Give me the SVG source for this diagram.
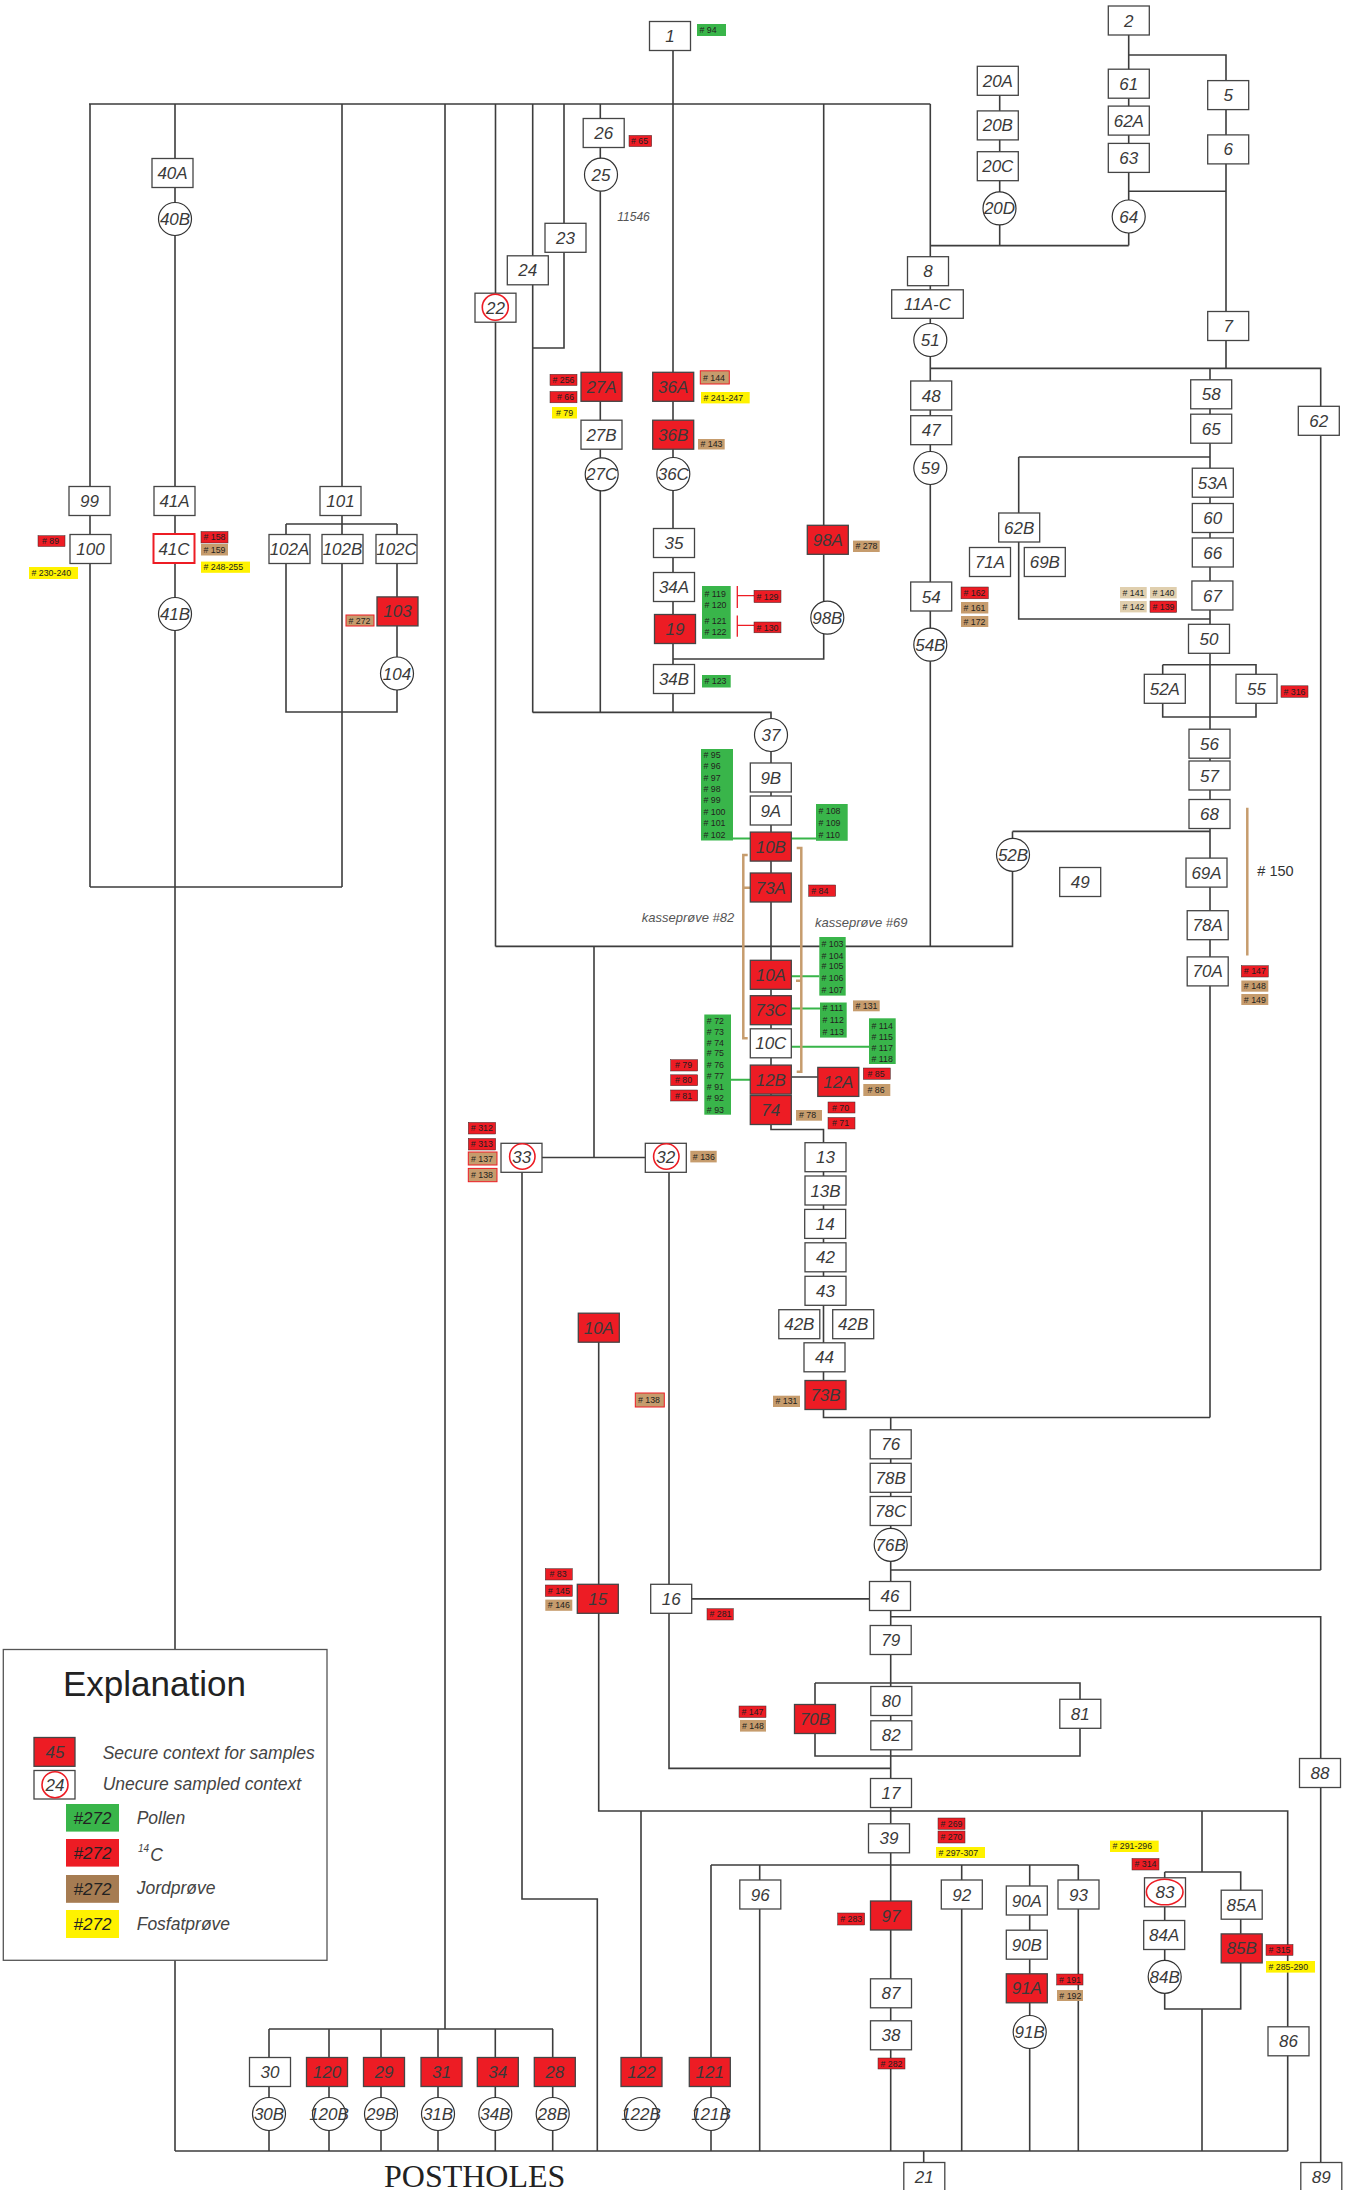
<svg xmlns="http://www.w3.org/2000/svg" width="1351" height="2190" viewBox="0 0 1351 2190">
<style>
.bg{fill:#fff}
.b{fill:#fff;stroke:#454545;stroke-width:1.3}
.r{fill:#ed1c24;stroke:#454545;stroke-width:1.3}
.ro{fill:#fff;stroke:#ed1c24;stroke-width:2}
.c{fill:#fff;stroke:#333;stroke-width:1.2}
.rc{fill:none;stroke:#ed1c24;stroke-width:1.6}
.t{font-family:"Liberation Sans",Arial,sans-serif;font-style:italic;font-size:17px;fill:#3a3a3a;text-anchor:middle}
.con{fill:none;stroke:#3d3d3d;stroke-width:1.6}
.gl{fill:none;stroke:#39b54a;stroke-width:2}
.rb{fill:none;stroke:#ed1c24;stroke-width:1.3}
.tb{fill:none;stroke:#c69c6d;stroke-width:2.5}
.s{font-family:"Liberation Sans",Arial,sans-serif;font-size:8.8px;fill:#231f20}
.tR{fill:#ed1c24;stroke:#3a2a2a;stroke-width:0.5}
.tG{fill:#39b54a}
.tB{fill:#c69c6d}
.tY{fill:#fff200}
.tE{fill:#e0cfae}
.tBo{fill:#c69c6d;stroke:#ed1c24;stroke-width:1}
.note{font-family:"Liberation Sans",Arial,sans-serif;font-style:italic;fill:#555}
.lg{font-family:"Liberation Sans",Arial,sans-serif;font-style:italic;font-size:17.5px;fill:#444}
.sw{font-family:"Liberation Sans",Arial,sans-serif;font-style:italic;font-size:17px;fill:#222;text-anchor:middle}
</style>
<rect class="bg" x="0" y="0" width="1351" height="2190"/>

<g id="connectors">
<path class="con" d="M89 104H930.3 M90 104V887 M90 887H342 M175 104V2151 M342 104V887 M286 524H397 M286 524V712H397V524 M445 104V2029 M495.5 104V946.4 M532.7 104V712.4 M564 104V348H532.7 M600.3 104V712.4 M673 50V712.4 M823.7 104V659H673 M930.3 104V946.4 M999.7 95V245.6 M930.3 245.6H1128.7 M1128.7 34.7V245.6 M1128.7 55H1226V368.4 M1128.7 191.2H1226 M930.3 368.4H1320.7V1570 M1210 368.4V1417.5 M1018.7 457H1210 M1018.7 457V619H1210 M1162.7 664.7H1256V717H1162.7V664.7 M1012.5 831.4H1210 M1012.5 831.4V946.4H495.5 M532.7 712.4H771V1129.5H823.5V1417.5H1210 M771 1077H838 M890.7 1417.5V2151 M890.7 1570H1320.7 M671 1598.9H890.7 M890.7 1616.7H1320.7V2163 M815 1683H1080V1756H815V1683 M669 1157.5V1768.4H890.7 M594 946.4V1157.5 M522 1157.5H666 M522 1157.5V1899H597.3V2151 M598.7 1327V1811H1287.7V2151 M641 1811V2072 M1202 1811V1872 M1164.7 1872H1240.7V2009H1164.7V1872 M1202 2009V2151 M711 1865H1078.3 M711 1865V2151 M759.7 1865V2151 M961.7 1865V2151 M1029.7 1865V2151 M1078.3 1865V2151 M175 2151H1287.7 M923.7 2151V2163 M269 2029H553 M269 2029V2151 M329 2029V2151 M381 2029V2151 M438 2029V2151 M495.3 2029V2151 M552.7 2029V2151"/>
<path class="gl" d="M733 838.4H750 M791 838.4H816 M791 976.3H819.3 M791 1008.5H820 M791 1046.8H869 M731 1079.7H750"/>
<path class="rb" d="M737.3 586V608 M737.3 595.6H754 M737.3 615.6V636.7 M737.3 625.4H754"/>
<path class="tb" d="M747.7 855H743.3V1038.3H747.7 M743.3 887.8H750 M796.7 848H801.3V1071.7H796.7 M801.3 980.8H796 M1247.3 807.8V955.5"/>
</g>

<g id="nodes">
<g id="n-1"><rect class="b" x="649.5" y="21.5" width="41" height="29"/><text class="t" x="670" y="42">1</text></g>
<g id="n-2"><rect class="b" x="1108.3" y="6" width="41" height="29"/><text class="t" x="1128.8" y="26.5">2</text></g>
<g id="n-20A"><rect class="b" x="977.3" y="66.3" width="41" height="29"/><text class="t" x="997.8" y="86.8">20A</text></g>
<g id="n-20B"><rect class="b" x="977.3" y="110.9" width="41" height="29"/><text class="t" x="997.8" y="131.4">20B</text></g>
<g id="n-20C"><rect class="b" x="977.3" y="151.7" width="41" height="29"/><text class="t" x="997.8" y="172.2">20C</text></g>
<g id="n-20D"><circle class="c" cx="999.5" cy="208.4" r="16.5"/><text class="t" x="999.5" y="214.4">20D</text></g>
<g id="n-61"><rect class="b" x="1108.3" y="69.2" width="41" height="29"/><text class="t" x="1128.8" y="89.7">61</text></g>
<g id="n-62A"><rect class="b" x="1108.3" y="106.1" width="41" height="29"/><text class="t" x="1128.8" y="126.6">62A</text></g>
<g id="n-63"><rect class="b" x="1108.3" y="143.4" width="41" height="29"/><text class="t" x="1128.8" y="163.9">63</text></g>
<g id="n-64"><circle class="c" cx="1128.7" cy="216.5" r="16.5"/><text class="t" x="1128.7" y="222.5">64</text></g>
<g id="n-5"><rect class="b" x="1207.7" y="80.6" width="41" height="29"/><text class="t" x="1228.2" y="101.1">5</text></g>
<g id="n-6"><rect class="b" x="1207.7" y="134.9" width="41" height="29"/><text class="t" x="1228.2" y="155.4">6</text></g>
<g id="n-7"><rect class="b" x="1207.7" y="311.5" width="41" height="29"/><text class="t" x="1228.2" y="332">7</text></g>
<g id="n-8"><rect class="b" x="907.5" y="256.7" width="41" height="29"/><text class="t" x="928" y="277.2">8</text></g>
<g id="n-11A-C"><rect class="b" x="891.7" y="289.8" width="71.6" height="28.5"/><text class="t" x="927.5" y="310">11A-C</text></g>
<g id="n-51"><circle class="c" cx="930.3" cy="340" r="16.5"/><text class="t" x="930.3" y="346">51</text></g>
<g id="n-48"><rect class="b" x="910.7" y="381" width="41" height="29"/><text class="t" x="931.2" y="401.5">48</text></g>
<g id="n-47"><rect class="b" x="910.7" y="415.7" width="41" height="29"/><text class="t" x="931.2" y="436.2">47</text></g>
<g id="n-59"><circle class="c" cx="930.3" cy="468" r="16.5"/><text class="t" x="930.3" y="474">59</text></g>
<g id="n-54"><rect class="b" x="910.7" y="582" width="41" height="29"/><text class="t" x="931.2" y="602.5">54</text></g>
<g id="n-54B"><circle class="c" cx="930.3" cy="644.7" r="16.5"/><text class="t" x="930.3" y="650.7">54B</text></g>
<g id="n-58"><rect class="b" x="1190.7" y="379.8" width="41" height="29"/><text class="t" x="1211.2" y="400.3">58</text></g>
<g id="n-65"><rect class="b" x="1190.7" y="414.2" width="41" height="29"/><text class="t" x="1211.2" y="434.7">65</text></g>
<g id="n-62"><rect class="b" x="1298.3" y="406.3" width="41" height="29"/><text class="t" x="1318.8" y="426.8">62</text></g>
<g id="n-53A"><rect class="b" x="1192.3" y="468.2" width="41" height="29"/><text class="t" x="1212.8" y="488.7">53A</text></g>
<g id="n-60"><rect class="b" x="1192.3" y="503.5" width="41" height="29"/><text class="t" x="1212.8" y="524">60</text></g>
<g id="n-66"><rect class="b" x="1192.3" y="538" width="41" height="29"/><text class="t" x="1212.8" y="558.5">66</text></g>
<g id="n-67"><rect class="b" x="1191.9" y="581" width="41" height="29"/><text class="t" x="1212.4" y="601.5">67</text></g>
<g id="n-62B"><rect class="b" x="998.7" y="513" width="41" height="29"/><text class="t" x="1019.2" y="533.5">62B</text></g>
<g id="n-71A"><rect class="b" x="969.5" y="547.5" width="41" height="29"/><text class="t" x="990" y="568">71A</text></g>
<g id="n-69B"><rect class="b" x="1024.3" y="547.5" width="41" height="29"/><text class="t" x="1044.8" y="568">69B</text></g>
<g id="n-50"><rect class="b" x="1188.5" y="624.3" width="41" height="29"/><text class="t" x="1209" y="644.8">50</text></g>
<g id="n-52A"><rect class="b" x="1144.3" y="674.3" width="41" height="29"/><text class="t" x="1164.8" y="694.8">52A</text></g>
<g id="n-55"><rect class="b" x="1236" y="674.3" width="41" height="29"/><text class="t" x="1256.5" y="694.8">55</text></g>
<g id="n-56"><rect class="b" x="1189" y="729.2" width="41" height="29"/><text class="t" x="1209.5" y="749.7">56</text></g>
<g id="n-57"><rect class="b" x="1189" y="761" width="41" height="29"/><text class="t" x="1209.5" y="781.5">57</text></g>
<g id="n-68"><rect class="b" x="1189" y="799.5" width="41" height="29"/><text class="t" x="1209.5" y="820">68</text></g>
<g id="n-52B"><circle class="c" cx="1013" cy="854.8" r="16.5"/><text class="t" x="1013" y="860.8">52B</text></g>
<g id="n-49"><rect class="b" x="1059.7" y="867.5" width="41" height="29"/><text class="t" x="1080.2" y="888">49</text></g>
<g id="n-69A"><rect class="b" x="1186" y="858.1" width="41" height="29"/><text class="t" x="1206.5" y="878.6">69A</text></g>
<g id="n-78A"><rect class="b" x="1187.2" y="910.7" width="41" height="29"/><text class="t" x="1207.7" y="931.2">78A</text></g>
<g id="n-70A"><rect class="b" x="1187.2" y="956.9" width="41" height="29"/><text class="t" x="1207.7" y="977.4">70A</text></g>

<g id="n-40A"><rect class="b" x="152" y="158.5" width="41" height="29"/><text class="t" x="172.5" y="179">40A</text></g>
<g id="n-40B"><circle class="c" cx="175" cy="219" r="16.5"/><text class="t" x="175" y="225">40B</text></g>
<g id="n-99"><rect class="b" x="69" y="486.5" width="41" height="29"/><text class="t" x="89.5" y="507">99</text></g>
<g id="n-41A"><rect class="b" x="154" y="486.5" width="41" height="29"/><text class="t" x="174.5" y="507">41A</text></g>
<g id="n-101"><rect class="b" x="320" y="486.5" width="41" height="29"/><text class="t" x="340.5" y="507">101</text></g>
<g id="n-100"><rect class="b" x="70" y="534.5" width="41" height="29"/><text class="t" x="90.5" y="555">100</text></g>
<g id="n-41C"><rect class="ro" x="153.5" y="534" width="41" height="29"/><text class="t" x="174" y="554.5">41C</text></g>
<g id="n-102A"><rect class="b" x="269" y="534.5" width="41" height="29"/><text class="t" x="289.5" y="555">102A</text></g>
<g id="n-102B"><rect class="b" x="322" y="534.5" width="41" height="29"/><text class="t" x="342.5" y="555">102B</text></g>
<g id="n-102C"><rect class="b" x="376" y="534.5" width="41" height="29"/><text class="t" x="396.5" y="555">102C</text></g>
<g id="n-41B"><circle class="c" cx="175" cy="614" r="16.5"/><text class="t" x="175" y="620">41B</text></g>
<g id="n-103"><rect class="r" x="377" y="596.9" width="41" height="29"/><text class="t" x="397.5" y="617.4">103</text></g>
<g id="n-104"><circle class="c" cx="397" cy="673.5" r="16.5"/><text class="t" x="397" y="679.5">104</text></g>

<g id="n-26"><rect class="b" x="583.2" y="118.5" width="41" height="29"/><text class="t" x="603.7" y="139">26</text></g>
<g id="n-25"><circle class="c" cx="601" cy="174.7" r="16.5"/><text class="t" x="601" y="180.7">25</text></g>
<g id="n-23"><rect class="b" x="545" y="223.3" width="41" height="29"/><text class="t" x="565.5" y="243.8">23</text></g>
<g id="n-24"><rect class="b" x="507.3" y="255.8" width="41" height="29"/><text class="t" x="527.8" y="276.3">24</text></g>
<g id="n-22"><rect class="b" x="475" y="293.2" width="41" height="29"/><circle class="rc" cx="495.3" cy="307.3" r="13"/><text class="t" x="495.5" y="313.7">22</text></g>
<g id="n-27A"><rect class="r" x="581" y="372.3" width="41" height="29"/><text class="t" x="601.5" y="392.8">27A</text></g>
<g id="n-27B"><rect class="b" x="581" y="420.2" width="41" height="29"/><text class="t" x="601.5" y="440.7">27B</text></g>
<g id="n-27C"><circle class="c" cx="601.7" cy="474.3" r="16.5"/><text class="t" x="601.7" y="480.3">27C</text></g>
<g id="n-36A"><rect class="r" x="652.7" y="372.3" width="41" height="29"/><text class="t" x="673.2" y="392.8">36A</text></g>
<g id="n-36B"><rect class="r" x="652.7" y="420.2" width="41" height="29"/><text class="t" x="673.2" y="440.7">36B</text></g>
<g id="n-36C"><circle class="c" cx="673.3" cy="474" r="16.5"/><text class="t" x="673.3" y="480">36C</text></g>
<g id="n-35"><rect class="b" x="653.5" y="528.5" width="41" height="29"/><text class="t" x="674" y="549">35</text></g>
<g id="n-98A"><rect class="r" x="807.3" y="525.3" width="41" height="29"/><text class="t" x="827.8" y="545.8">98A</text></g>
<g id="n-34A"><rect class="b" x="653.5" y="572.5" width="41" height="29"/><text class="t" x="674" y="593">34A</text></g>
<g id="n-19"><rect class="r" x="654.5" y="614.5" width="41" height="29"/><text class="t" x="675" y="635">19</text></g>
<g id="n-98B"><circle class="c" cx="827.3" cy="617.7" r="16.5"/><text class="t" x="827.3" y="623.7">98B</text></g>
<g id="n-34B-a"><rect class="b" x="653.5" y="664.5" width="41" height="29"/><text class="t" x="674" y="685">34B</text></g>
<g id="n-37"><circle class="c" cx="771" cy="735" r="16.5"/><text class="t" x="771" y="741">37</text></g>
<g id="n-9B"><rect class="b" x="750.3" y="763" width="41" height="29"/><text class="t" x="770.8" y="783.5">9B</text></g>
<g id="n-9A"><rect class="b" x="750.3" y="796" width="41" height="29"/><text class="t" x="770.8" y="816.5">9A</text></g>
<g id="n-10B"><rect class="r" x="750.3" y="832.1" width="41" height="29"/><text class="t" x="770.8" y="852.6">10B</text></g>
<g id="n-73A"><rect class="r" x="750.3" y="873" width="41" height="29"/><text class="t" x="770.8" y="893.5">73A</text></g>
<g id="n-10A-a"><rect class="r" x="750.3" y="960.3" width="41" height="29"/><text class="t" x="770.8" y="980.8">10A</text></g>
<g id="n-73C"><rect class="r" x="750.3" y="995.7" width="41" height="29"/><text class="t" x="770.8" y="1016.2">73C</text></g>
<g id="n-10C"><rect class="b" x="750.3" y="1028.8" width="41" height="29"/><text class="t" x="770.8" y="1049.3">10C</text></g>
<g id="n-12B"><rect class="r" x="750.3" y="1065.1" width="41" height="29"/><text class="t" x="770.8" y="1085.6">12B</text></g>
<g id="n-12A"><rect class="r" x="817.8" y="1067.4" width="41" height="29"/><text class="t" x="838.3" y="1087.9">12A</text></g>
<g id="n-74"><rect class="r" x="750.3" y="1095.5" width="41" height="29"/><text class="t" x="770.8" y="1116">74</text></g>
<g id="n-33"><rect class="b" x="501" y="1143.3" width="41" height="29"/><circle class="rc" cx="522.3" cy="1156.5" r="12.7"/><text class="t" x="521.8" y="1163">33</text></g>
<g id="n-32"><rect class="b" x="645.3" y="1143.3" width="41" height="29"/><circle class="rc" cx="666.3" cy="1156.5" r="12.7"/><text class="t" x="665.8" y="1163">32</text></g>
<g id="n-13"><rect class="b" x="805" y="1142.7" width="41" height="29"/><text class="t" x="825.5" y="1163.2">13</text></g>
<g id="n-13B"><rect class="b" x="805" y="1176" width="41" height="29"/><text class="t" x="825.5" y="1196.5">13B</text></g>
<g id="n-14"><rect class="b" x="804.7" y="1209.4" width="41" height="29"/><text class="t" x="825.2" y="1229.9">14</text></g>
<g id="n-42"><rect class="b" x="805" y="1242.8" width="41" height="29"/><text class="t" x="825.5" y="1263.3">42</text></g>
<g id="n-43"><rect class="b" x="805" y="1276.3" width="41" height="29"/><text class="t" x="825.5" y="1296.8">43</text></g>
<g id="n-42B-a"><rect class="b" x="778.8" y="1309.7" width="41" height="29"/><text class="t" x="799.3" y="1330.2">42B</text></g>
<g id="n-42B-b"><rect class="b" x="832.7" y="1309.7" width="41" height="29"/><text class="t" x="853.2" y="1330.2">42B</text></g>
<g id="n-44"><rect class="b" x="804" y="1342.8" width="41" height="29"/><text class="t" x="824.5" y="1363.3">44</text></g>
<g id="n-73B"><rect class="r" x="805" y="1380.5" width="41" height="29"/><text class="t" x="825.5" y="1401">73B</text></g>
<g id="n-10A-b"><rect class="r" x="578.3" y="1313.2" width="41" height="29"/><text class="t" x="598.8" y="1333.7">10A</text></g>
<g id="n-15"><rect class="r" x="577.3" y="1584.3" width="41" height="29"/><text class="t" x="597.8" y="1604.8">15</text></g>
<g id="n-16"><rect class="b" x="650.7" y="1584.3" width="41" height="29"/><text class="t" x="671.2" y="1604.8">16</text></g>
<g id="n-76"><rect class="b" x="870.2" y="1429.8" width="41" height="29"/><text class="t" x="890.7" y="1450.3">76</text></g>
<g id="n-78B"><rect class="b" x="870.2" y="1463.3" width="41" height="29"/><text class="t" x="890.7" y="1483.8">78B</text></g>
<g id="n-78C"><rect class="b" x="870.2" y="1496.5" width="41" height="29"/><text class="t" x="890.7" y="1517">78C</text></g>
<g id="n-76B"><circle class="c" cx="890.7" cy="1544.8" r="16.5"/><text class="t" x="890.7" y="1550.8">76B</text></g>
<g id="n-46"><rect class="b" x="869.5" y="1581.5" width="41" height="29"/><text class="t" x="890" y="1602">46</text></g>
<g id="n-79"><rect class="b" x="870.2" y="1625.5" width="41" height="29"/><text class="t" x="890.7" y="1646">79</text></g>
<g id="n-80"><rect class="b" x="870.8" y="1686.5" width="41" height="29"/><text class="t" x="891.3" y="1707">80</text></g>
<g id="n-82"><rect class="b" x="870.8" y="1720.8" width="41" height="29"/><text class="t" x="891.3" y="1741.3">82</text></g>
<g id="n-70B"><rect class="r" x="794.5" y="1704.5" width="41" height="29"/><text class="t" x="815" y="1725">70B</text></g>
<g id="n-81"><rect class="b" x="1059.8" y="1699.3" width="41" height="29"/><text class="t" x="1080.3" y="1719.8">81</text></g>
<g id="n-17"><rect class="b" x="870.5" y="1778.5" width="41" height="29"/><text class="t" x="891" y="1799">17</text></g>
<g id="n-39"><rect class="b" x="868.5" y="1823.8" width="41" height="29"/><text class="t" x="889" y="1844.3">39</text></g>
<g id="n-88"><rect class="b" x="1299.5" y="1758.5" width="41" height="29"/><text class="t" x="1320" y="1779">88</text></g>
<g id="n-96"><rect class="b" x="739.8" y="1880" width="41" height="29"/><text class="t" x="760.3" y="1900.5">96</text></g>
<g id="n-92"><rect class="b" x="941.3" y="1880" width="41" height="29"/><text class="t" x="961.8" y="1900.5">92</text></g>
<g id="n-90A"><rect class="b" x="1006.3" y="1886" width="41" height="29"/><text class="t" x="1026.8" y="1906.5">90A</text></g>
<g id="n-93"><rect class="b" x="1058" y="1880" width="41" height="29"/><text class="t" x="1078.5" y="1900.5">93</text></g>
<g id="n-97"><rect class="r" x="870.5" y="1901" width="41" height="29"/><text class="t" x="891" y="1921.5">97</text></g>
<g id="n-90B"><rect class="b" x="1006.3" y="1930.2" width="41" height="29"/><text class="t" x="1026.8" y="1950.7">90B</text></g>
<g id="n-83"><rect class="b" x="1144.5" y="1877.8" width="41" height="29"/><ellipse class="rc" cx="1164.7" cy="1892" rx="18.3" ry="12.8"/><text class="t" x="1165" y="1898.3">83</text></g>
<g id="n-85A"><rect class="b" x="1221.2" y="1890.2" width="41" height="29"/><text class="t" x="1241.7" y="1910.7">85A</text></g>
<g id="n-84A"><rect class="b" x="1143.7" y="1920.5" width="41" height="29"/><text class="t" x="1164.2" y="1941">84A</text></g>
<g id="n-85B"><rect class="r" x="1221.2" y="1933.9" width="41" height="29"/><text class="t" x="1241.7" y="1954.4">85B</text></g>
<g id="n-84B"><circle class="c" cx="1164.7" cy="1976.8" r="16.5"/><text class="t" x="1164.7" y="1982.8">84B</text></g>
<g id="n-91A"><rect class="r" x="1006.3" y="1973.8" width="41" height="29"/><text class="t" x="1026.8" y="1994.3">91A</text></g>
<g id="n-91B"><circle class="c" cx="1029.7" cy="2032" r="16.5"/><text class="t" x="1029.7" y="2038">91B</text></g>
<g id="n-87"><rect class="b" x="870.5" y="1978.8" width="41" height="29"/><text class="t" x="891" y="1999.3">87</text></g>
<g id="n-38"><rect class="b" x="870.5" y="2020.8" width="41" height="29"/><text class="t" x="891" y="2041.3">38</text></g>
<g id="n-86"><rect class="b" x="1268" y="2026.8" width="41" height="29"/><text class="t" x="1288.5" y="2047.3">86</text></g>
<g id="n-30"><rect class="b" x="249.5" y="2057.5" width="41" height="29"/><text class="t" x="270" y="2078">30</text></g>
<g id="n-120"><rect class="r" x="306.5" y="2057.5" width="41" height="29"/><text class="t" x="327" y="2078">120</text></g>
<g id="n-29"><rect class="r" x="363.5" y="2057.5" width="41" height="29"/><text class="t" x="384" y="2078">29</text></g>
<g id="n-31"><rect class="r" x="421" y="2057.5" width="41" height="29"/><text class="t" x="441.5" y="2078">31</text></g>
<g id="n-34"><rect class="r" x="477.3" y="2057.5" width="41" height="29"/><text class="t" x="497.8" y="2078">34</text></g>
<g id="n-28"><rect class="r" x="534.3" y="2057.5" width="41" height="29"/><text class="t" x="554.8" y="2078">28</text></g>
<g id="n-122"><rect class="r" x="621" y="2057.5" width="41" height="29"/><text class="t" x="641.5" y="2078">122</text></g>
<g id="n-121"><rect class="r" x="689.3" y="2057.5" width="41" height="29"/><text class="t" x="709.8" y="2078">121</text></g>
<g id="n-30B"><circle class="c" cx="269" cy="2114" r="16.5"/><text class="t" x="269" y="2120">30B</text></g>
<g id="n-120B"><circle class="c" cx="329" cy="2114" r="16.5"/><text class="t" x="329" y="2120">120B</text></g>
<g id="n-29B"><circle class="c" cx="381" cy="2114" r="16.5"/><text class="t" x="381" y="2120">29B</text></g>
<g id="n-31B"><circle class="c" cx="438" cy="2114" r="16.5"/><text class="t" x="438" y="2120">31B</text></g>
<g id="n-34B-b"><circle class="c" cx="495.3" cy="2114" r="16.5"/><text class="t" x="495.3" y="2120">34B</text></g>
<g id="n-28B"><circle class="c" cx="552.7" cy="2114" r="16.5"/><text class="t" x="552.7" y="2120">28B</text></g>
<g id="n-122B"><circle class="c" cx="641" cy="2114" r="16.5"/><text class="t" x="641" y="2120">122B</text></g>
<g id="n-121B"><circle class="c" cx="711" cy="2114" r="16.5"/><text class="t" x="711" y="2120">121B</text></g>
<g id="n-21"><rect class="b" x="903.8" y="2162.5" width="41" height="29"/><text class="t" x="924.3" y="2183">21</text></g>
<g id="n-89"><rect class="b" x="1300.8" y="2162.5" width="41" height="29"/><text class="t" x="1321.3" y="2183">89</text></g>
</g>

<g id="samples">
<rect class="tG" x="697" y="24" width="29" height="12"/><text class="s" x="699.5" y="33"># 94</text>
<rect class="tR" x="629" y="135.4" width="22.7" height="11.2"/><text class="s" x="631" y="144"># 65</text>
<rect class="tR" x="550" y="374.3" width="27" height="11.2"/><text class="s" x="552.5" y="383"># 256</text>
<rect class="tR" x="550" y="391.5" width="27" height="11.3"/><text class="s" x="557" y="400"># 66</text>
<rect class="tY" x="552" y="407" width="25" height="11.5"/><text class="s" x="556" y="415.8"># 79</text>
<rect class="tBo" x="700.3" y="370.8" width="29" height="13.2"/><text class="s" x="703" y="380.5"># 144</text>
<rect class="tY" x="701" y="392" width="48.7" height="11.4"/><text class="s" x="703.5" y="400.8"># 241-247</text>
<rect class="tB" x="698" y="439" width="26.7" height="10.5"/><text class="s" x="700.5" y="447.3"># 143</text>
<rect class="tB" x="853" y="540.6" width="26.7" height="11.4"/><text class="s" x="855.5" y="549.3"># 278</text>
<rect class="tR" x="38" y="535.7" width="27" height="10.8"/><text class="s" x="42" y="544.2"># 89</text>
<rect class="tY" x="29" y="567" width="49" height="12"/><text class="s" x="31.5" y="576"># 230-240</text>
<rect class="tR" x="201" y="531.5" width="27" height="11.5"/><text class="s" x="203.5" y="540.3"># 158</text>
<rect class="tB" x="201" y="544" width="27" height="11.5"/><text class="s" x="203.5" y="552.8"># 159</text>
<rect class="tY" x="201" y="561.6" width="49" height="11.2"/><text class="s" x="203.5" y="570.2"># 248-255</text>
<rect class="tBo" x="346" y="615" width="28" height="11"/><text class="s" x="348.5" y="623.5"># 272</text>
<rect class="tG" x="702" y="586" width="28.7" height="52.8"/><text class="s" x="704.5"><tspan x="704.5" y="596.5"># 119</tspan><tspan x="704.5" y="608.4"># 120</tspan><tspan x="704.5" y="623.5"># 121</tspan><tspan x="704.5" y="635.4"># 122</tspan></text>
<rect class="tR" x="754" y="590.3" width="27" height="12.3"/><text class="s" x="756.5" y="599.5"># 129</text>
<rect class="tR" x="754" y="622" width="27" height="10.8"/><text class="s" x="756.5" y="630.5"># 130</text>
<rect class="tG" x="702" y="675" width="28.7" height="12.5"/><text class="s" x="704.5" y="684.2"># 123</text>
<rect class="tR" x="961" y="587" width="27.3" height="11.8"/><text class="s" x="963.5" y="596"># 162</text>
<rect class="tB" x="961" y="602" width="27.3" height="11.5"/><text class="s" x="963.5" y="610.8"># 161</text>
<rect class="tB" x="961" y="616" width="27.3" height="11"/><text class="s" x="963.5" y="624.5"># 172</text>
<rect class="tE" x="1120" y="587" width="26.7" height="11.4"/><text class="s" x="1122.5" y="595.8"># 141</text>
<rect class="tE" x="1150" y="587" width="26.7" height="11.4"/><text class="s" x="1152.5" y="595.8"># 140</text>
<rect class="tE" x="1120" y="601" width="26.7" height="11.4"/><text class="s" x="1122.5" y="609.8"># 142</text>
<rect class="tR" x="1150" y="601" width="26.7" height="11.4"/><text class="s" x="1152.5" y="609.8"># 139</text>
<rect class="tR" x="1281" y="685.8" width="27" height="11.5"/><text class="s" x="1283.5" y="694.6"># 316</text>
<rect class="tG" x="701" y="749" width="32" height="91.5"/><text class="s" x="703.5"><tspan x="703.5" y="758"># 95</tspan><tspan x="703.5" y="769.4"># 96</tspan><tspan x="703.5" y="780.7"># 97</tspan><tspan x="703.5" y="792.1"># 98</tspan><tspan x="703.5" y="803.4"># 99</tspan><tspan x="703.5" y="814.8"># 100</tspan><tspan x="703.5" y="826.1"># 101</tspan><tspan x="703.5" y="837.5"># 102</tspan></text>
<rect class="tG" x="816" y="804" width="31.7" height="36.8"/><text class="s" x="818.5"><tspan x="818.5" y="814.3"># 108</tspan><tspan x="818.5" y="826.2"># 109</tspan><tspan x="818.5" y="837.5"># 110</tspan></text>
<rect class="tR" x="808.7" y="885" width="27" height="11.3"/><text class="s" x="811.2" y="893.7"># 84</text>
<rect class="tG" x="819.3" y="937" width="26.4" height="58.6"/><text class="s" x="821.5"><tspan x="821.5" y="946.6"># 103</tspan><tspan x="821.5" y="958.5"># 104</tspan><tspan x="821.5" y="969.4"># 105</tspan><tspan x="821.5" y="980.6"># 106</tspan><tspan x="821.5" y="992.5"># 107</tspan></text>
<rect class="tG" x="820" y="1002.5" width="26.7" height="35.1"/><text class="s" x="822.5"><tspan x="822.5" y="1011.2"># 111</tspan><tspan x="822.5" y="1023"># 112</tspan><tspan x="822.5" y="1034.6"># 113</tspan></text>
<rect class="tB" x="853" y="1000.4" width="26.7" height="10.9"/><text class="s" x="855.5" y="1008.8"># 131</text>
<rect class="tG" x="869" y="1018.3" width="26.7" height="45.7"/><text class="s" x="871.5"><tspan x="871.5" y="1028.7"># 114</tspan><tspan x="871.5" y="1039.6"># 115</tspan><tspan x="871.5" y="1051.2"># 117</tspan><tspan x="871.5" y="1062.4"># 118</tspan></text>
<rect class="tG" x="704.3" y="1014.5" width="26.7" height="100.2"/><text class="s" x="706.8"><tspan x="706.8" y="1023.5"># 72</tspan><tspan x="706.8" y="1034.7"># 73</tspan><tspan x="706.8" y="1045.6"># 74</tspan><tspan x="706.8" y="1056.4"># 75</tspan><tspan x="706.8" y="1067.6"># 76</tspan><tspan x="706.8" y="1078.5"># 77</tspan><tspan x="706.8" y="1090.1"># 91</tspan><tspan x="706.8" y="1101"># 92</tspan><tspan x="706.8" y="1112.5"># 93</tspan></text>
<rect class="tR" x="670.7" y="1059.7" width="27" height="11.3"/><text class="s" x="675" y="1068.4"># 79</text>
<rect class="tR" x="670.7" y="1074.8" width="27" height="10.9"/><text class="s" x="675" y="1083.3"># 80</text>
<rect class="tR" x="670.7" y="1090" width="27" height="11"/><text class="s" x="675" y="1098.5"># 81</text>
<rect class="tR" x="863.3" y="1068" width="27" height="11.3"/><text class="s" x="867.5" y="1076.7"># 85</text>
<rect class="tB" x="863.3" y="1084" width="27" height="12"/><text class="s" x="867.5" y="1093"># 86</text>
<rect class="tB" x="796" y="1110" width="26" height="10.7"/><text class="s" x="799" y="1118.4"># 78</text>
<rect class="tR" x="828" y="1102" width="27" height="11"/><text class="s" x="832" y="1110.5"># 70</text>
<rect class="tR" x="828" y="1117.5" width="27" height="11.5"/><text class="s" x="832" y="1126.3"># 71</text>
<rect class="tR" x="1241.3" y="965.7" width="27" height="11.3"/><text class="s" x="1243.8" y="974.4"># 147</text>
<rect class="tB" x="1241.3" y="980.5" width="27" height="11.2"/><text class="s" x="1243.8" y="989.1"># 148</text>
<rect class="tB" x="1241.3" y="994" width="27" height="11"/><text class="s" x="1243.8" y="1002.5"># 149</text>
<rect class="tR" x="468.3" y="1122.4" width="27.4" height="11.6"/><text class="s" x="470.8" y="1131.2"># 312</text>
<rect class="tR" x="468.3" y="1138.5" width="27.4" height="11.5"/><text class="s" x="470.8" y="1147.3"># 313</text>
<rect class="tBo" x="468.3" y="1152" width="28.7" height="13"/><text class="s" x="471" y="1161.5"># 137</text>
<rect class="tBo" x="468.3" y="1168.4" width="28.7" height="13.3"/><text class="s" x="471" y="1178"># 138</text>
<rect class="tB" x="690.3" y="1150.8" width="26.4" height="11.6"/><text class="s" x="692.8" y="1159.6"># 136</text>
<rect class="tBo" x="635.3" y="1393" width="29" height="14"/><text class="s" x="638" y="1403"># 138</text>
<rect class="tB" x="773" y="1395.7" width="27" height="11.3"/><text class="s" x="775.5" y="1404.4"># 131</text>
<rect class="tR" x="545.3" y="1568.7" width="27" height="11.3"/><text class="s" x="549.5" y="1577.4"># 83</text>
<rect class="tR" x="545.3" y="1585" width="27" height="11.4"/><text class="s" x="547.8" y="1593.7"># 145</text>
<rect class="tB" x="545.3" y="1599.6" width="27" height="11.2"/><text class="s" x="547.8" y="1608.2"># 146</text>
<rect class="tR" x="707" y="1608.7" width="26.3" height="11.3"/><text class="s" x="709.5" y="1617.4"># 281</text>
<rect class="tR" x="739" y="1706" width="27" height="11.5"/><text class="s" x="741.5" y="1714.8"># 147</text>
<rect class="tB" x="740" y="1720" width="26" height="11.6"/><text class="s" x="742" y="1728.8"># 148</text>
<rect class="tR" x="938" y="1818" width="27" height="11.4"/><text class="s" x="940.5" y="1826.7"># 269</text>
<rect class="tR" x="938" y="1831" width="27" height="12"/><text class="s" x="940.5" y="1840"># 270</text>
<rect class="tY" x="936" y="1847" width="49" height="11"/><text class="s" x="938.5" y="1855.5"># 297-307</text>
<rect class="tR" x="837.7" y="1913" width="27" height="12"/><text class="s" x="840.2" y="1922"># 283</text>
<rect class="tR" x="878" y="2058" width="27" height="11"/><text class="s" x="880.5" y="2066.5"># 282</text>
<rect class="tY" x="1110" y="1840.6" width="48.7" height="11.4"/><text class="s" x="1112.5" y="1849.3"># 291-296</text>
<rect class="tR" x="1132" y="1858.5" width="27" height="11.5"/><text class="s" x="1134.5" y="1867.3"># 314</text>
<rect class="tR" x="1056.7" y="1974" width="26.3" height="11"/><text class="s" x="1059" y="1982.5"># 191</text>
<rect class="tB" x="1057" y="1990" width="26" height="11"/><text class="s" x="1059.3" y="1998.5"># 192</text>
<rect class="tR" x="1266" y="1944.5" width="27" height="10.9"/><text class="s" x="1268.5" y="1953"># 315</text>
<rect class="tY" x="1266" y="1961" width="49" height="11.6"/><text class="s" x="1268.5" y="1969.8"># 285-290</text>
</g>

<g id="notes">
<text class="note" x="617.3" y="221" font-size="12">11546</text>
<text class="note" x="641.7" y="922" font-size="13">kasseprøve #82</text>
<text class="note" x="815" y="926.5" font-size="13">kasseprøve #69</text>
<text x="1257.3" y="876" font-family="Liberation Sans, Arial, sans-serif" font-size="14.5" fill="#333"># 150</text>
<text x="384" y="2187" font-family="Liberation Serif, Times New Roman, serif" font-size="32" fill="#222">POSTHOLES</text>
</g>

<g id="legend">
<rect x="3.3" y="1649.5" width="323.7" height="310.8" fill="#fff" stroke="#555" stroke-width="1.3"/>
<text x="63" y="1696" font-family="Liberation Sans, Arial, sans-serif" font-size="35" fill="#222">Explanation</text>
<rect class="r" x="34" y="1737.5" width="41" height="28.8"/><text class="t" x="55" y="1758">45</text>
<rect class="b" x="34" y="1770.5" width="41" height="28.5"/><circle class="rc" cx="55" cy="1784.7" r="13"/><text class="t" x="55" y="1791">24</text>
<text class="lg" x="102.7" y="1759">Secure context for samples</text>
<text class="lg" x="102.7" y="1790">Unecure sampled context</text>
<rect class="tG" x="66" y="1804" width="53" height="27.6"/><text class="sw" x="92.5" y="1824">#272</text>
<rect fill="#ed1c24" x="66" y="1839" width="53" height="27.6"/><text class="sw" x="92.5" y="1859">#272</text>
<rect fill="#a67c52" x="66" y="1875" width="53" height="27.8"/><text class="sw" x="92.5" y="1895">#272</text>
<rect class="tY" x="66" y="1910" width="53" height="28"/><text class="sw" x="92.5" y="1930">#272</text>
<text class="lg" x="136.7" y="1824">Pollen</text>
<text class="lg" x="138" y="1861"><tspan font-size="10" dy="-9">14</tspan><tspan dy="9" dx="1">C</tspan></text>
<text class="lg" x="136.7" y="1894">Jordprøve</text>
<text class="lg" x="136.7" y="1930">Fosfatprøve</text>
</g>
</svg>
